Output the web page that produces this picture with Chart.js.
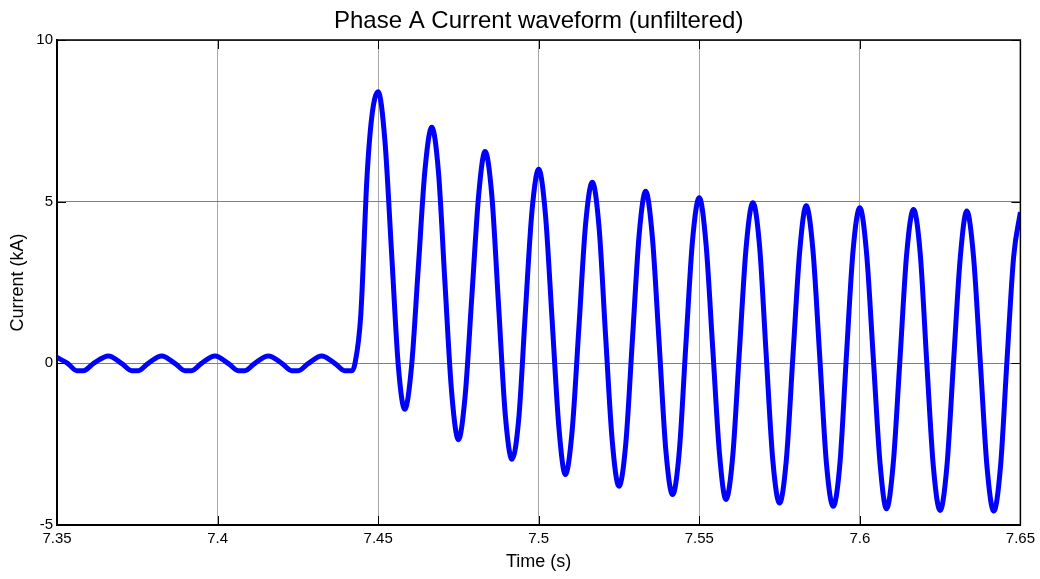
<!DOCTYPE html>
<html>
<head>
<meta charset="utf-8">
<title>Phase A Current waveform</title>
<script src="https://cdn.jsdelivr.net/npm/chart.js"></script>
<style>
  body { margin: 0; background: #fff; }
  canvas { display: block; }
</style>
</head>
<body>
<canvas id="waveChart" width="1040" height="579"></canvas>
<script>
// time (s) and phase A current (kA)
const timeS = [
    // pre-fault
    7.3500, 7.3533, 7.3562, 7.3582, 7.3614, 7.3660, 7.3701, 7.3733, 7.3753, 7.3784,
    7.3826, 7.3867, 7.3899, 7.3919, 7.3950, 7.3992, 7.4033, 7.4065, 7.4085, 7.4116,
    7.4158, 7.4200, 7.4231, 7.4251, 7.4283, 7.4324, 7.4365, 7.4396, 7.4418,
    // fault inception
    7.4428, 7.4446, 7.4465, 7.4480,
    // fault current
    7.4500, 7.4521, 7.4542, 7.4563, 7.4583, 7.4604, 7.4625, 7.4646, 7.4667, 7.4688,
    7.4708, 7.4729, 7.4750, 7.4771, 7.4792, 7.4813, 7.4833, 7.4854, 7.4875, 7.4896,
    7.4917, 7.4938, 7.4958, 7.4979, 7.5000, 7.5021, 7.5042, 7.5063, 7.5083, 7.5104,
    7.5125, 7.5146, 7.5167, 7.5188, 7.5208, 7.5229, 7.5250, 7.5271, 7.5292, 7.5313,
    7.5333, 7.5354, 7.5375, 7.5396, 7.5417, 7.5438, 7.5458, 7.5479, 7.5500, 7.5521,
    7.5542, 7.5563, 7.5583, 7.5604, 7.5625, 7.5646, 7.5667, 7.5688, 7.5708, 7.5729,
    7.5750, 7.5771, 7.5792, 7.5813, 7.5833, 7.5854, 7.5875, 7.5896, 7.5917, 7.5938,
    7.5958, 7.5979, 7.6000, 7.6021, 7.6042, 7.6063, 7.6083, 7.6104, 7.6125, 7.6146,
    7.6167, 7.6188, 7.6208, 7.6229, 7.6250, 7.6271, 7.6292, 7.6313, 7.6333, 7.6354,
    7.6375, 7.6396, 7.6417, 7.6438, 7.6458, 7.6479, 7.6500
];
const currentKA = [
    0.18, 0.00, -0.23, -0.23, 0.00, 0.23, 0.00, -0.23, -0.23, 0.00,
    0.23, 0.00, -0.23, -0.23, 0.00, 0.23, 0.00, -0.23, -0.23, 0.00,
    0.23, 0.00, -0.23, -0.23, 0.00, 0.23, 0.00, -0.23, -0.23,
    0.00, 1.50, 5.70, 7.60,
    8.40, 6.90, 3.40, -0.10, -1.42, -0.10, 2.95, 6.00, 7.30, 5.90,
    2.50, -0.90, -2.36, -1.00, 2.10, 5.20, 6.55, 5.20, 1.80, -1.60,
    -2.97, -1.70, 1.50, 4.70, 6.00, 4.60, 1.30, -2.00, -3.44, -2.10,
    1.08, 4.30, 5.60, 4.20, 0.90, -2.40, -3.80, -2.50, 0.76, 4.00,
    5.32, 3.90, 0.63, -2.70, -4.06, -2.70, 0.53, 3.80, 5.12, 3.70,
    0.45, -2.80, -4.21, -2.90, 0.38, 3.60, 4.97, 3.60, 0.33, -3.00,
    -4.32, -3.00, 0.28, 3.50, 4.87, 3.50, 0.23, -3.10, -4.42, -3.10,
    0.20, 3.50, 4.81, 3.40, 0.15, -3.10, -4.50, -3.10, 0.13, 3.40,
    4.76, 3.40, 0.10, -3.20, -4.55, -3.20, 0.08, 3.30, 4.71, 3.30,
    0.07, -3.20, -4.57, -3.20, 0.05, 3.30, 4.68
];
const xTicks = [7.35, 7.4, 7.45, 7.5, 7.55, 7.6, 7.65];
const yTicks = [-5, 0, 5, 10];

const chartTitle = "Phase A Current waveform (unfiltered)";
const xLabel = "Time (s)";
const yLabel = "Current (kA)";

const FONT = "'Liberation Sans', Arial, sans-serif";
Chart.defaults.font.family = FONT;
Chart.defaults.color = "#000";

// matlab style frame: box on top/right, inward ticks, title over the axes
const matlabFrame = {
    id: "matlabFrame",
    afterDraw(chart) {
        const { ctx, chartArea: a, scales } = chart;
        ctx.save();
        ctx.strokeStyle = "#000";
        ctx.lineWidth = 1.5;
        ctx.beginPath();
        ctx.moveTo(a.left, a.top);
        ctx.lineTo(a.right, a.top);
        ctx.lineTo(a.right, a.bottom);
        ctx.stroke();

        ctx.lineWidth = 1;
        ctx.beginPath();
        xTicks.forEach(v => {
            const x = Math.round(scales.x.getPixelForValue(v)) + 0.5;
            ctx.moveTo(x, a.bottom); ctx.lineTo(x, a.bottom - 9);
            ctx.moveTo(x, a.top); ctx.lineTo(x, a.top + 9);
        });
        yTicks.forEach(v => {
            const y = Math.round(scales.y.getPixelForValue(v)) + 0.5;
            ctx.moveTo(a.left, y); ctx.lineTo(a.left + 9, y);
            ctx.moveTo(a.right, y); ctx.lineTo(a.right - 9, y);
        });
        ctx.stroke();

        ctx.fillStyle = "#000";
        ctx.font = "24px " + FONT;
        ctx.textAlign = "center";
        ctx.textBaseline = "alphabetic";
        ctx.fillText(chartTitle, (a.left + a.right) / 2, 28);
        ctx.restore();
    }
};

new Chart(document.getElementById("waveChart"), {
    type: "line",
    data: {
        datasets: [{
            data: timeS.map((t, i) => ({ x: t, y: currentKA[i] })),
            borderColor: "#0000ff",
            borderWidth: 5,
            pointRadius: 0,
            fill: false,
            cubicInterpolationMode: "monotone"
        }]
    },
    options: {
        responsive: false,
        animation: false,
        layout: { padding: { top: 40, right: 19, left: 0, bottom: 0 } },
        plugins: {
            legend: { display: false },
            title: { display: false },
            tooltip: { enabled: false }
        },
        scales: {
            x: {
                type: "linear",
                min: 7.35,
                max: 7.65,
                afterBuildTicks: s => { s.ticks = xTicks.map(v => ({ value: v })); },
                afterFit: s => { s.height = 54; },
                grid: { color: "#a8a8a8", lineWidth: 1, drawTicks: false },
                border: { color: "#000", width: 2 },
                ticks: {
                    padding: 5,
                    maxRotation: 0,
                    font: { size: 15 },
                    callback: v => String(+v.toFixed(2))
                },
                title: {
                    display: true,
                    text: xLabel,
                    font: { size: 18 },
                    padding: { top: 0, bottom: 6 }
                }
            },
            y: {
                min: -5,
                max: 10,
                afterBuildTicks: s => { s.ticks = yTicks.map(v => ({ value: v })); },
                afterFit: s => { s.width = 57; },
                grid: { color: "#808080", lineWidth: 1, drawTicks: false },
                border: { color: "#000", width: 2 },
                ticks: {
                    padding: 4,
                    font: { size: 15 },
                    callback: v => String(v)
                },
                title: {
                    display: true,
                    text: yLabel,
                    font: { size: 18 },
                    padding: { top: 7, bottom: 0 }
                }
            }
        }
    },
    plugins: [matlabFrame]
});
</script>
</body>
</html>
